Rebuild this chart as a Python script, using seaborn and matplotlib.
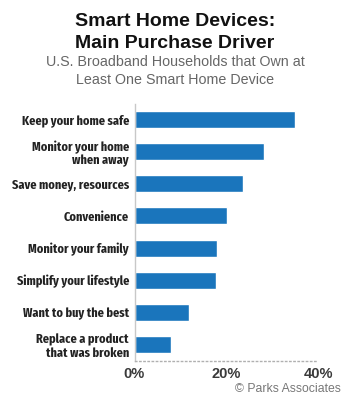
import matplotlib
matplotlib.use("Agg")
import matplotlib.pyplot as plt
from matplotlib import font_manager as fm
import seaborn as sns
import pandas as pd

categories = [
    "Keep your home safe",
    "Monitor your home\nwhen away",
    "Save money, resources",
    "Convenience",
    "Monitor your family",
    "Simplify your lifestyle",
    "Want to buy the best",
    "Replace a product\nthat was broken",
]
values = [35.0, 28.2, 23.6, 20.2, 18.0, 17.7, 11.9, 8.0]
xticks = [0, 20, 40]
xticklabels = ["0%", "20%", "40%"]

sns.set_style("white")
plt.rcParams['font.family'] = ['Liberation Sans', 'DejaVu Sans']


def _w(f):
    if isinstance(f.weight, int):
        return f.weight
    return 700 if "bold" in str(f.weight).lower() else 400


def find_face(keys, excl):
    for f in fm.fontManager.ttflist:
        base = f.fname.lower().split("/")[-1]
        if any(k in base for k in keys) and not any(e in base for e in excl):
            if _w(f) == 700 and "italic" not in base and f.style == "normal":
                return f.fname
    return None


cond = (find_face(["extracondensedbold", "extracondensed-bold"], ["semi", "ultra"])
        or find_face(["condensedbold", "condensed-bold"], ["semi", "extra", "ultra"])
        or find_face(["narrow"], ["italic"]))
if cond:
    label_fp = fm.FontProperties(fname=cond, size=10)
else:
    label_fp = fm.FontProperties(family=['Liberation Sans', 'DejaVu Sans'],
                                 weight='bold', size=8.3)

df = pd.DataFrame({"cat": categories, "val": values})

fig = plt.figure(figsize=(3.5, 4.0), dpi=100)
ax = fig.add_axes([134.5 / 350, 1 - 360.5 / 400, (318 - 134.5) / 350, 257 / 400])

sns.barplot(data=df, y="cat", x="val", orient="h", color="#1a75bc",
            saturation=1, width=0.53, ax=ax)

ax.set_xlim(0, 40)
ax.set_ylim(7.5, -0.5)
ax.set_xlabel("")
ax.set_ylabel("")
ax.set_xticks(xticks)
ax.set_xticklabels(xticklabels, fontsize=10.5, fontweight="bold", color="#3a3a3a")
ax.tick_params(axis="y", length=0, pad=4)
ax.tick_params(axis="x", length=0, pad=5)
for lbl in ax.get_yticklabels():
    lbl.set_fontproperties(label_fp)
    lbl.set_color("#222222")
    lbl.set_linespacing(1.1)

# fit label size so the first label is about as wide as in the reference
fig.canvas.draw()
r = fig.canvas.get_renderer()
first = ax.get_yticklabels()[0]
wpx = first.get_window_extent(r).width
size = min(10.5, 10 * 107.0 / wpx)
for lbl in ax.get_yticklabels():
    lbl.set_fontsize(size)

for s in ["top", "right"]:
    ax.spines[s].set_visible(False)
ax.spines["left"].set_color("#c8c8c8")
ax.spines["left"].set_linewidth(1.0)
ax.spines["bottom"].set_color("#b0b0b0")
ax.spines["bottom"].set_linestyle((0, (1, 2)))
ax.spines["bottom"].set_linewidth(1.0)
ax.grid(False)

fig.text(0.5, 1 - 22 / 400, "Smart Home Devices:", ha="center", va="center",
         fontsize=14, fontweight="bold", color="#111111")
fig.text(0.5, 1 - 43 / 400, "Main Purchase Driver", ha="center", va="center",
         fontsize=14, fontweight="bold", color="#111111")
fig.text(0.5, 1 - 62 / 400, "U.S. Broadband Households that Own at", ha="center",
         va="center", fontsize=10.3, color="#666666")
fig.text(0.5, 1 - 80 / 400, "Least One Smart Home Device", ha="center",
         va="center", fontsize=10.3, color="#666666")
fig.text(341 / 350, 1 - 389 / 400, "\u00a9 Parks Associates", ha="right",
         va="center", fontsize=8.8, color="#777777")

fig.savefig("out.png", dpi=100)
